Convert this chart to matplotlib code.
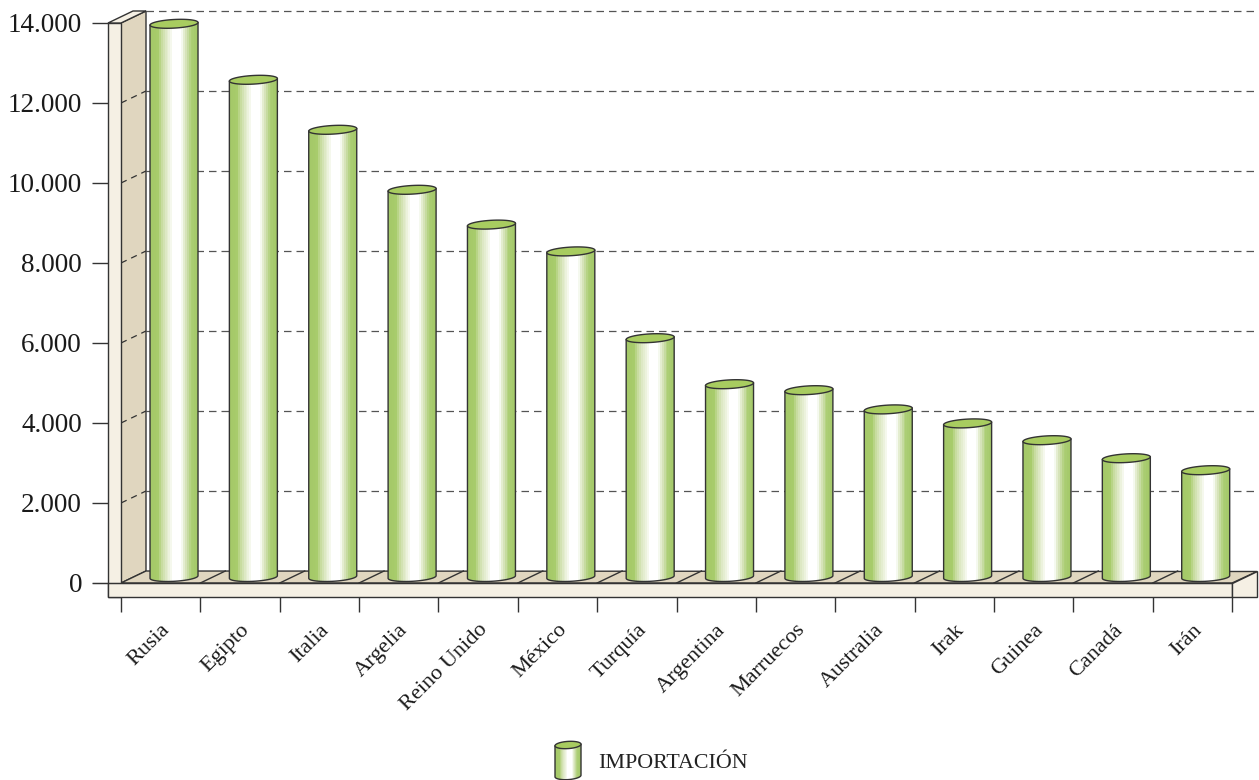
import numpy as np
import matplotlib
matplotlib.use('Agg')
import matplotlib.pyplot as plt
from matplotlib.patches import Polygon
from matplotlib.colors import to_rgb

plt.rcParams['font.family'] = ['Liberation Serif', 'DejaVu Serif']

paises = ['Rusia', 'Egipto', 'Italia', 'Argelia', 'Reino Unido', 'México', 'Turquía',
          'Argentina', 'Marruecos', 'Australia', 'Irak', 'Guinea', 'Canadá', 'Irán']
importacion = [13830, 12430, 11180, 9680, 8810, 8140, 5970,
               4820, 4670, 4190, 3840, 3420, 2970, 2670]
y_ticks = [0, 2000, 4000, 6000, 8000, 10000, 12000, 14000]
y_labels = ['0', '2.000', '4.000', '6.000', '8.000', '10.000', '12.000', '14.000']

# escala: un pais = 79.36 px, 1 px = 25 unidades
W, H = 1259, 780
PX_X = 1 / 79.36
PX_Y = 25.0
X0, Y0 = 121, 583
DX = 25 * PX_X   # profundidad del grafico
DY = 12 * PX_Y
LINE = '#333333'
GRID = '#555555'
FRONT = '#f5f0e4'
TOP = '#e0d6bf'

stops = [(0.0, '#a4c968'), (0.16, '#a8cc6c'), (0.24, '#c8dca0'), (0.32, '#dde8c4'),
         (0.42, '#f0f5e4'), (0.48, '#ffffff'), (0.66, '#ffffff'), (0.72, '#e4edd0'),
         (0.78, '#cfdfae'), (0.86, '#aecf78'), (1.0, '#a4c968')]
pos = np.linspace(0, 1, 26)
band = np.array([np.interp(pos, [s[0] for s in stops], [to_rgb(s[1])[c] for s in stops])
                 for c in range(3)]).T[np.newaxis, :, :]

fig = plt.figure(figsize=(W / 100, H / 100), dpi=100)
ax = fig.add_axes([0, 0, 1, 1])
ax.set_facecolor('white')


def cylinder(xc, half, y0, y1, ell, tilt, z):
    t = np.linspace(0, 2 * np.pi, 80)
    ex = xc + half * np.cos(t)
    e_off = ell * np.sin(t) + tilt * np.cos(t)
    # contorno del cuerpo: arco inferior + lado superior
    low = t[(t >= np.pi) & (t <= 2 * np.pi)]
    low_x = xc + half * np.cos(low)
    low_y = y0 + ell * np.sin(low) + tilt * np.cos(low)
    body = np.column_stack([np.r_[low_x, xc + half, xc - half],
                            np.r_[low_y, y1 + tilt, y1 - tilt]])
    patch = Polygon(body, closed=True, fc='none', ec=LINE, lw=1, zorder=z + 1, joinstyle='round')
    ax.add_patch(patch)
    im = ax.imshow(band, extent=(xc - half, xc + half, y0 - 2 * ell, y1 + 2 * ell),
                   aspect='auto', interpolation='nearest', zorder=z)
    im.set_clip_path(patch)
    ax.add_patch(Polygon(np.column_stack([ex, y1 + e_off]), closed=True, fc='#a8cc60',
                         ec=LINE, lw=1, zorder=z + 2))


# lineas de fondo
for v in y_ticks[1:]:
    ax.plot([DX, 14 + DX], [v + DY, v + DY], color=GRID, lw=0.9, dashes=(6, 4), zorder=1)

# pared
wall = [(0, 0), (DX, DY), (DX, 14000 + DY), (0, 14000)]
ax.add_patch(Polygon(wall, closed=True, fc=TOP, ec=LINE, lw=1, zorder=2))
for v in y_ticks[1:-1]:
    ax.plot([0, DX], [v, v + DY], color=LINE, lw=0.9, dashes=(5, 4), zorder=3)
x_left = -13 * PX_X
ax.add_patch(Polygon([(x_left, -14 * PX_Y), (0, -14 * PX_Y), (0, 14000), (x_left, 14000)],
                     closed=True, fc=FRONT, ec=LINE, lw=1, zorder=3))
ax.add_patch(Polygon([(x_left, 14000), (0, 14000), (DX, 14000 + DY), (x_left + DX, 14000 + DY)],
                     closed=True, fc=FRONT, ec=LINE, lw=1, zorder=3))

# suelo
ax.add_patch(Polygon([(0, 0), (DX, DY), (14 + DX, DY - 0.5 * PX_Y), (14, 0)],
                     closed=True, fc=TOP, ec=LINE, lw=1, zorder=2))
for i in range(1, 14):
    ax.plot([i, i + DX], [0, DY], color=LINE, lw=1, zorder=3)
ax.add_patch(Polygon([(x_left, -14 * PX_Y), (14, -14 * PX_Y), (14, 0), (x_left, 0)],
                     closed=True, fc=FRONT, ec=LINE, lw=1, zorder=3))
ax.add_patch(Polygon([(14, 0), (14, -14 * PX_Y), (14 + DX, DY - 26 * PX_Y), (14 + DX, DY)],
                     closed=True, fc=FRONT, ec=LINE, lw=1, zorder=3))

# barras
for i, v in enumerate(importacion):
    cylinder(i + 0.668, 24 * PX_X, 6 * PX_Y, v + 6 * PX_Y, 4.3 * PX_Y, 1.3 * PX_Y, 5)

# leyenda
cylinder((568 - X0) * PX_X, 13 * PX_X, (Y0 - 776) * PX_Y, (Y0 - 745) * PX_Y, 3.6 * PX_Y, 0.8 * PX_Y, 5)
ax.text((598 - X0) * PX_X, (Y0 - 763) * PX_Y, 'IMPORTACIÓN', fontsize=15.8, color='#222222',
        va='center', ha='left')

# ejes
ax.set_xlim(-X0 * PX_X, (W - X0) * PX_X)
ax.set_ylim(-(H - Y0) * PX_Y, Y0 * PX_Y)
for s in ['top', 'right']:
    ax.spines[s].set_visible(False)
ax.spines['left'].set_visible(False)
ax.spines['bottom'].set_position(('data', 0))
ax.spines['bottom'].set_bounds(-28 * PX_X, 14)
ax.spines['bottom'].set_color(LINE)
ax.spines['bottom'].set_zorder(4)

ax.set_yticks(y_ticks)
ax.set_yticklabels(y_labels)
ax.yaxis.set_ticks_position('left')
ax.spines['left'].set_position(('data', 0))
ax.tick_params(axis='y', length=21, width=1, color=LINE, pad=7, zorder=6,
               labelsize=19.5, labelcolor='#1a1a1a')

ax.set_xticks(range(15))
ax.set_xticklabels([])
ax.tick_params(axis='x', which='major', length=21, width=1, color=LINE, zorder=6)
ax.set_xticks(np.arange(14) + 0.5, minor=True)
ax.set_xticklabels(paises, minor=True, fontsize=16, color='#1a1a1a', rotation=45,
                   ha='right', rotation_mode='anchor')
ax.tick_params(axis='x', which='minor', length=0, pad=27)

fig.savefig('out.png', dpi=100, facecolor='white')
